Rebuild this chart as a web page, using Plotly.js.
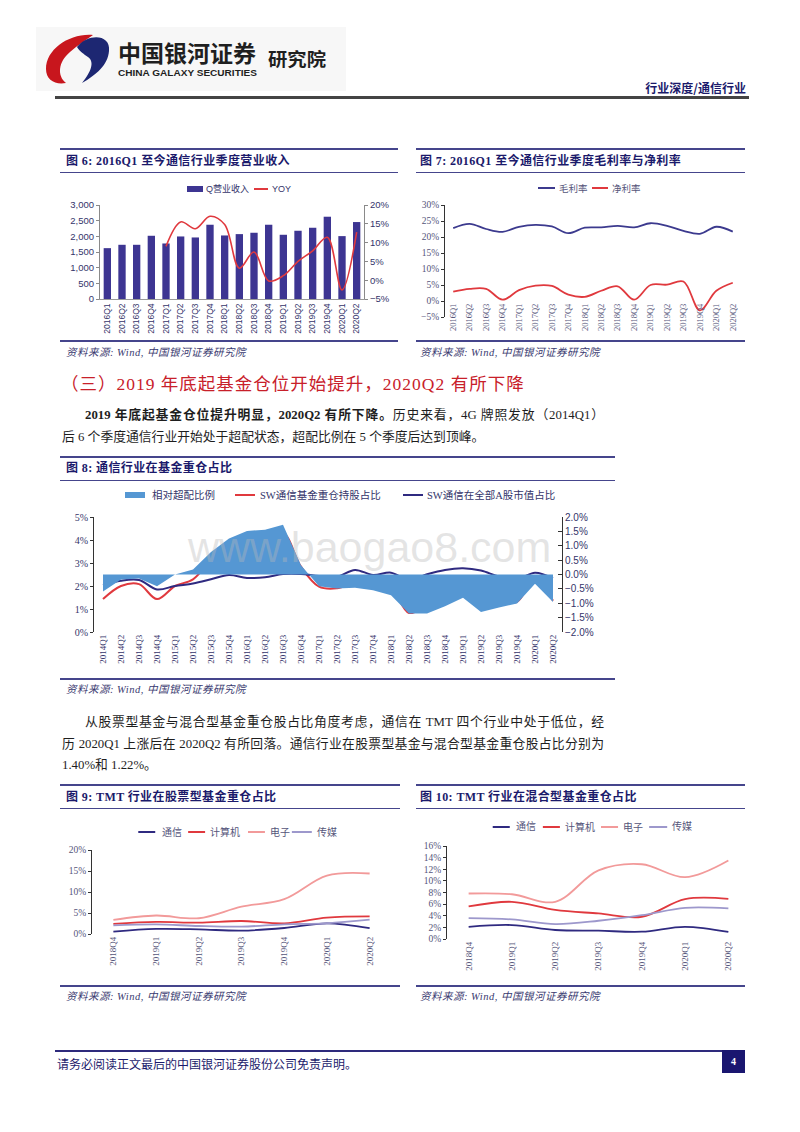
<!DOCTYPE html>
<html><head><meta charset="utf-8">
<script src="https://cdn.plot.ly/plotly-3.0.1.min.js"></script>
<style>
body{margin:0;width:800px;height:1132px;position:relative;background:#fff;font-family:"Noto Sans CJK SC",sans-serif;overflow:hidden}
.rule{position:absolute;background:#45458c}
.ttl{position:absolute;font-size:12px;letter-spacing:0.4px;font-weight:bold;color:#1b1a6b;line-height:14px;white-space:nowrap;font-family:"Liberation Serif","Noto Sans CJK SC",serif}
.src{position:absolute;font-size:10.5px;font-style:italic;color:#3a3a70;line-height:12px;white-space:nowrap;font-family:"Liberation Serif","Noto Sans CJK SC",serif;letter-spacing:0.5px}
.p{position:absolute;font-size:12.8px;color:#1e1e1e;line-height:18px;white-space:nowrap;font-family:"Liberation Serif","Noto Sans CJK SC",serif}
.j{text-align:justify;text-align-last:justify;white-space:normal}
.chart{position:absolute}
</style>
</head><body>

<svg style="position:absolute;left:0;top:0" width="800" height="110">
  <rect x="36" y="27" width="310" height="64" fill="#f7f7f7"/>
  <path d="M93 35 C70 33 46 49 46 69 C46 80 55 85 66 83 C57 76 58 62 70 52 C78 45 86 40 93 35 Z" fill="#c8161d"/>
  <path d="M77 47 C88 33 111 34 109 51 C108 65 96 75 82 83 C91 72 95 62 88 57 C84 54 80 52 77 47 Z" fill="#1d2772"/>
  <text x="118" y="62" font-size="23" font-weight="bold" fill="#1f1f1f" textLength="138" lengthAdjust="spacingAndGlyphs" font-family="Noto Sans CJK SC">中国银河证券</text>
  <text x="118" y="76" font-size="9.5" font-weight="bold" fill="#1f1f1f" textLength="139" lengthAdjust="spacingAndGlyphs" font-family="Liberation Sans">CHINA GALAXY SECURITIES</text>
  <text x="268" y="66" font-size="18" font-weight="bold" fill="#1f1f1f" textLength="58" lengthAdjust="spacingAndGlyphs" font-family="Noto Sans CJK SC">研究院</text>
  <text x="746" y="93" font-size="12" font-weight="bold" fill="#1b1a6b" text-anchor="end" font-family="Noto Sans CJK SC">行业深度/通信行业</text>
  <rect x="55" y="96" width="694" height="3" fill="#444"/>
</svg>

<!-- Figure 6 & 7 frames -->
<div class="rule" style="left:60px;top:148px;width:338px;height:2px"></div>
<div class="ttl" style="left:66px;top:154px">图 6: 2016Q1 至今通信行业季度营业收入</div>
<div class="rule" style="left:60px;top:172px;width:338px;height:1px"></div>
<div class="rule" style="left:60px;top:340px;width:338px;height:2px"></div>
<div class="src" style="left:66px;top:347px">资料来源: Wind, 中国银河证券研究院</div>

<div class="rule" style="left:416px;top:148px;width:329px;height:2px"></div>
<div class="ttl" style="left:420px;top:154px">图 7: 2016Q1 至今通信行业季度毛利率与净利率</div>
<div class="rule" style="left:416px;top:172px;width:329px;height:1px"></div>
<div class="rule" style="left:416px;top:340px;width:329px;height:2px"></div>
<div class="src" style="left:420px;top:347px">资料来源: Wind, 中国银河证券研究院</div>

<div class="chart" id="c6" style="left:60px;top:175px;width:350px;height:170px"></div>
<div class="chart" id="c7" style="left:410px;top:175px;width:345px;height:170px"></div>

<!-- section heading and paragraph -->
<div style="position:absolute;left:61px;top:372px;font-size:17.5px;letter-spacing:1px;color:#c8202a;white-space:nowrap;line-height:24px;font-family:'Liberation Serif','Noto Sans CJK SC',serif">（三）2019 年底起基金仓位开始提升，2020Q2 有所下降</div>
<div class="p j" style="left:85px;top:406px;width:519px"><b>2019 年底起基金仓位提升明显，2020Q2 有所下降。</b>历史来看，4G 牌照发放（2014Q1）</div>
<div class="p" style="left:62px;top:428px">后 6 个季度通信行业开始处于超配状态，超配比例在 5 个季度后达到顶峰。</div>

<!-- Figure 8 frame -->
<div class="rule" style="left:60px;top:456px;width:555px;height:2px"></div>
<div class="ttl" style="left:66px;top:461px">图 8: 通信行业在基金重仓占比</div>
<div class="rule" style="left:60px;top:480px;width:555px;height:1px"></div>
<div class="rule" style="left:60px;top:678px;width:555px;height:2px"></div>
<div class="src" style="left:66px;top:684px">资料来源: Wind, 中国银河证券研究院</div>
<div class="chart" id="c8" style="left:60px;top:482px;width:555px;height:195px"></div>
<div style="position:absolute;left:188px;top:521px;font-size:43px;color:rgba(185,185,185,0.38);font-family:'Liberation Sans',sans-serif;white-space:nowrap;pointer-events:none;line-height:52px">www.baogao8.com</div>

<!-- second paragraph -->
<div class="p j" style="left:85px;top:713px;width:519px">从股票型基金与混合型基金重仓股占比角度考虑，通信在 TMT 四个行业中处于低位，经</div>
<div class="p j" style="left:62px;top:735px;width:542px">历 2020Q1 上涨后在 2020Q2 有所回落。通信行业在股票型基金与混合型基金重仓股占比分别为</div>
<div class="p" style="left:62px;top:756px">1.40%和 1.22%。</div>

<!-- Figure 9 & 10 frames -->
<div class="rule" style="left:60px;top:784px;width:340px;height:2px"></div>
<div class="ttl" style="left:66px;top:790px">图 9: TMT 行业在股票型基金重仓占比</div>
<div class="rule" style="left:60px;top:808px;width:340px;height:1px"></div>
<div class="rule" style="left:60px;top:985px;width:340px;height:2px"></div>
<div class="src" style="left:66px;top:991px">资料来源: Wind, 中国银河证券研究院</div>

<div class="rule" style="left:416px;top:784px;width:329px;height:2px"></div>
<div class="ttl" style="left:420px;top:790px">图 10: TMT 行业在混合型基金重仓占比</div>
<div class="rule" style="left:416px;top:808px;width:329px;height:1px"></div>
<div class="rule" style="left:416px;top:985px;width:329px;height:2px"></div>
<div class="src" style="left:420px;top:991px">资料来源: Wind, 中国银河证券研究院</div>

<div class="chart" id="c9" style="left:60px;top:812px;width:345px;height:170px"></div>
<div class="chart" id="c10" style="left:410px;top:812px;width:345px;height:170px"></div>

<!-- footer -->
<div style="position:absolute;left:55px;top:1050px;width:667px;height:1.5px;background:#2e2a7c"></div>
<div style="position:absolute;left:722px;top:1050px;width:23px;height:23px;background:#1a1670;color:#fff;font-size:10px;font-weight:bold;text-align:center;line-height:23px;font-family:'Liberation Serif',serif">4</div>
<div style="position:absolute;left:57px;top:1056px;font-size:12px;color:#1b1a6b;white-space:nowrap;line-height:16px;font-family:'Noto Sans CJK SC'">请务必阅读正文最后的中国银河证券股份公司免责声明。</div>

<script>
// ---------------- data ----------------
const quarters16 = ['2016Q1','2016Q2','2016Q3','2016Q4','2017Q1','2017Q2','2017Q3','2017Q4','2018Q1','2018Q2','2018Q3','2018Q4','2019Q1','2019Q2','2019Q3','2019Q4','2020Q1','2020Q2'];
const revenue = [1623,1730,1730,2018,1772,1996,1964,2370,2028,2071,2114,2370,2050,2178,2274,2626,2007,2456];
const yoyQuarters = ['2017Q1','2017Q2','2017Q3','2017Q4','2018Q1','2018Q2','2018Q3','2018Q4','2019Q1','2019Q2','2019Q3','2019Q4','2020Q1','2020Q2'];
const yoy = [9.0,15.5,13.7,17.0,14.8,3.2,7.5,-0.2,1.2,5.0,7.8,11.4,-2.6,12.8];

const grossMargin = [22.8,24.1,22.5,21.6,23.2,23.8,23.3,21.2,22.9,23.0,23.5,23.0,24.3,23.5,21.9,21.0,23.2,21.7];
const netMargin = [2.9,3.8,3.8,0.4,3.4,4.8,4.7,2.0,1.3,3.2,4.6,0.4,5.0,5.1,6.1,-2.9,3.2,5.7];

const quarters14 = ['2014Q1','2014Q2','2014Q3','2014Q4','2015Q1','2015Q2','2015Q3','2015Q4','2016Q1','2016Q2','2016Q3','2016Q4','2017Q1','2017Q2','2017Q3','2017Q4','2018Q1','2018Q2','2018Q3','2018Q4','2019Q1','2019Q2','2019Q3','2019Q4','2020Q1','2020Q2'];
const relOverweight = [-0.59,-0.17,-0.14,-0.41,0.0,0.17,0.78,1.25,1.51,1.56,1.73,0.32,-0.41,-0.49,-0.46,-0.55,-0.72,-1.36,-1.36,-1.10,-0.81,-1.30,-1.15,-1.01,-0.32,-0.96];
const fundHolding = [1.43,2.0,2.08,1.43,2.0,2.29,3.13,3.76,3.86,3.94,4.3,2.84,1.97,1.9,2.11,1.97,1.9,0.83,1.17,1.53,1.94,1.31,1.28,1.31,2.29,1.36];
const marketCap = [2.03,2.23,2.26,1.85,2.0,2.11,2.29,2.48,2.35,2.38,2.52,2.52,2.43,2.41,2.7,2.48,2.58,2.26,2.51,2.7,2.77,2.67,2.41,2.29,2.58,2.33];

const quarters7 = ['2018Q4','2019Q1','2019Q2','2019Q3','2019Q4','2020Q1','2020Q2'];
const industries = ['通信','计算机','电子','传媒'];
const stockTelecom = [0.56,1.2,1.1,0.8,1.43,2.55,1.40];
const stockComputer = [2.4,2.87,2.7,3.1,2.55,3.9,4.2];
const stockElectronics = [3.35,4.4,3.75,6.5,8.3,13.9,14.4];
const stockMedia = [2.07,2.3,1.9,1.75,2.3,2.55,3.4];
const mixTelecom = [2.1,2.4,1.55,1.43,1.26,2.1,1.22];
const mixComputer = [5.6,6.4,5.0,4.4,3.83,6.86,6.9];
const mixElectronics = [7.83,7.7,6.4,11.8,12.86,10.63,13.5];
const mixMedia = [3.6,3.37,2.57,3.14,4.1,5.37,5.26];

// ---------------- styles ----------------
const NAVY='#2f2a80', RED='#e0393e', PINK='#f29a9a', LAV='#9d98cc', BAR='#3d3592', FILL='#5597d3';
const SERIF='Liberation Serif, Noto Sans CJK SC, serif';
const SANS='Liberation Sans, Noto Sans CJK SC, sans-serif';
const TXT='#34346a';
const cfg={staticPlot:true,displayModeBar:false};

function legendDecor(items, m, w, h, font){
  const pw=w-m.l-m.r, ph=h-m.t-m.b;
  const fx=px=>(px-m.l)/pw, fy=py=>(h-m.b-py)/ph;
  const shapes=[], ann=[];
  items.forEach(it=>{
    if(it.kind==='rect'){
      shapes.push({type:'rect',xref:'paper',yref:'paper',x0:fx(it.x0),x1:fx(it.x1),y0:fy(it.y+3),y1:fy(it.y-3),fillcolor:it.color,line:{width:0}});
    } else {
      shapes.push({type:'line',xref:'paper',yref:'paper',x0:fx(it.x0),x1:fx(it.x1),y0:fy(it.y),y1:fy(it.y),line:{color:it.color,width:2}});
    }
    ann.push({xref:'paper',yref:'paper',x:fx(it.tx),y:fy(it.y),xanchor:'left',yanchor:'middle',showarrow:false,text:it.label,font:font});
  });
  return {shapes, annotations:ann};
}
function base(w,h,m){
  return {width:w,height:h,margin:m,paper_bgcolor:'rgba(0,0,0,0)',plot_bgcolor:'rgba(0,0,0,0)',showlegend:false};
}

// ---------------- Figure 6 ----------------
(function(){
  const w=350,h=170,m={l:40,r:46,t:30,b:46,pad:0};
  const L=base(w,h,m);
  L.font={family:SANS,size:9,color:TXT};
  L.bargap=0.5;
  L.xaxis={type:'category',range:[-0.5,17.5],tickangle:-90,showline:true,linecolor:'#9a9a9a',linewidth:1,ticks:'',showgrid:false,automargin:false,tickfont:{family:SANS,size:8.5,color:TXT}};
  L.yaxis={range:[0,3000],dtick:500,tickformat:',',showgrid:false,zeroline:false,showline:true,linecolor:'#8a8a8a',ticks:'outside',ticklen:3,tickcolor:'#8a8a8a',automargin:false,tickfont:{family:SANS,size:9.5,color:TXT}};
  L.yaxis2={overlaying:'y',side:'right',range:[-5,20],dtick:5,ticksuffix:'%',showgrid:false,zeroline:false,showline:true,linecolor:'#8a8a8a',ticks:'outside',ticklen:3,tickcolor:'#8a8a8a',automargin:false,tickfont:{family:SANS,size:9.5,color:TXT}};
  const d=legendDecor([
    {kind:'rect',x0:127,x1:143,y:14,color:BAR,tx:144,label:'Q营业收入'},
    {kind:'line',x0:194,x1:208,y:14,color:RED,tx:210,label:'YOY'}
  ],m,w,h,{family:SANS,size:9,color:TXT});
  Object.assign(L,d);
  Plotly.newPlot('c6',[
    {type:'bar',x:quarters16,y:revenue,marker:{color:BAR},name:'Q营业收入'},
    {type:'scatter',mode:'lines',x:yoyQuarters,y:yoy,yaxis:'y2',line:{color:RED,width:1.6,shape:'spline',smoothing:1},name:'YOY'}
  ],L,cfg);
})();

// ---------------- Figure 7 ----------------
(function(){
  const w=345,h=170,m={l:35,r:14,t:30,b:28,pad:0};
  const L=base(w,h,m);
  L.font={family:SERIF,size:9,color:TXT};
  L.xaxis={type:'category',range:[-0.5,17.5],anchor:'free',position:5/35,tickangle:-90,showline:false,ticks:'',showgrid:false,automargin:false,tickfont:{family:SERIF,size:8.5,color:'#55557a'}};
  L.yaxis={range:[-5,30],dtick:5,ticksuffix:'%',showgrid:false,zeroline:false,showline:true,linecolor:'#333',ticks:'outside',ticklen:3,tickcolor:'#333',automargin:false,tickfont:{family:SERIF,size:9.5,color:'#55557a'}};
  const d=legendDecor([
    {kind:'line',x0:128,x1:145,y:13,color:'#3c3a8e',tx:147,label:'毛利率'},
    {kind:'line',x0:182,x1:198,y:13,color:RED,tx:200,label:'净利率'}
  ],m,w,h,{family:SERIF,size:9.5,color:'#55557a'});
  Object.assign(L,d);
  Plotly.newPlot('c7',[
    {type:'scatter',mode:'lines',x:quarters16,y:grossMargin,line:{color:'#3c3a8e',width:1.8,shape:'spline',smoothing:1},name:'毛利率'},
    {type:'scatter',mode:'lines',x:quarters16,y:netMargin,line:{color:RED,width:1.8,shape:'spline',smoothing:1},name:'净利率'}
  ],L,cfg);
})();

// ---------------- Figure 8 ----------------
(function(){
  const w=555,h=195,m={l:34,r:53,t:35,b:45,pad:0};
  const L=base(w,h,m);
  L.font={family:SERIF,size:10,color:TXT};
  L.xaxis={type:'category',range:[-0.5,25.5],tickangle:-90,showline:false,ticks:'',showgrid:false,automargin:false,tickfont:{family:SERIF,size:9,color:TXT}};
  L.yaxis={range:[0,5],dtick:1,ticksuffix:'%',showgrid:false,zeroline:false,showline:true,linecolor:'#333',ticks:'outside',ticklen:3,tickcolor:'#333',automargin:false,tickfont:{family:SERIF,size:10,color:TXT}};
  L.yaxis2={overlaying:'y',side:'right',range:[-2,2],dtick:0.5,tickformat:'.1f',ticksuffix:'%',showgrid:false,zeroline:false,showline:true,linecolor:'#333',ticks:'inside',ticklen:4,tickcolor:'#333',automargin:false,tickfont:{family:SANS,size:10,color:TXT}};
  const d=legendDecor([
    {kind:'rect',x0:65,x1:85,y:13,color:FILL,tx:90,label:'相对超配比例'},
    {kind:'line',x0:175,x1:195,y:13,color:RED,tx:198,label:'SW通信基金重仓持股占比'},
    {kind:'line',x0:343,x1:363,y:13,color:NAVY,tx:365,label:'SW通信在全部A股市值占比'}
  ],m,w,h,{family:SERIF,size:10.5,color:TXT});
  Object.assign(L,d);
  Plotly.newPlot('c8',[
    {type:'scatter',mode:'lines',x:quarters14,y:relOverweight,yaxis:'y2',fill:'tozeroy',fillcolor:FILL,line:{width:0,color:FILL},name:'相对超配比例'},
    {type:'scatter',mode:'lines',x:quarters14,y:fundHolding,line:{color:RED,width:2,shape:'spline',smoothing:1},name:'SW通信基金重仓持股占比'},
    {type:'scatter',mode:'lines',x:quarters14,y:marketCap,line:{color:NAVY,width:2,shape:'spline',smoothing:1},name:'SW通信在全部A股市值占比'}
  ],L,cfg);
})();

// ---------------- Figures 9 & 10 ----------------
function tmtChart(id,series,yr,dt,m,leg){
  const w=345,h=170;
  const L=base(w,h,m);
  L.font={family:SERIF,size:9.5,color:TXT};
  L.xaxis={type:'category',range:[-0.5,6.5],tickangle:-90,showline:false,ticks:'',showgrid:false,automargin:false,tickfont:{family:SERIF,size:9,color:'#55557a'}};
  L.yaxis={range:yr,dtick:dt,ticksuffix:'%',showgrid:false,zeroline:false,showline:true,linecolor:'#333',ticks:'outside',ticklen:3,tickcolor:'#333',automargin:false,tickfont:{family:SERIF,size:9.5,color:'#55557a'}};
  const colors=[NAVY,RED,PINK,LAV];
  const d=legendDecor(leg.map((g,i)=>({kind:'line',x0:g[0],x1:g[1],tx:g[2],y:leg.y,color:colors[i],label:industries[i]})),m,w,h,{family:SERIF,size:10,color:'#55557a'});
  Object.assign(L,d);
  const traces=series.map((s,i)=>({type:'scatter',mode:'lines',x:quarters7,y:s,name:industries[i],line:{color:colors[i],width:1.8,shape:'spline',smoothing:1}}));
  Plotly.newPlot(id,traces,L,cfg);
}
const leg9=[[78,95,100],[128,145,148],[188,205,208],[232,252,255]]; leg9.y=20;
const leg10=[[83,100,104],[133,150,153],[191,208,211],[239,257,260]]; leg10.y=15;
tmtChart('c9',[stockTelecom,stockComputer,stockElectronics,stockMedia],[0,20],5,{l:31.6,r:13.6,t:38,b:48,pad:0},leg9);
tmtChart('c10',[mixTelecom,mixComputer,mixElectronics,mixMedia],[0,16],2,{l:37.4,r:5.4,t:34,b:43,pad:0},leg10);
</script>
</body></html>
